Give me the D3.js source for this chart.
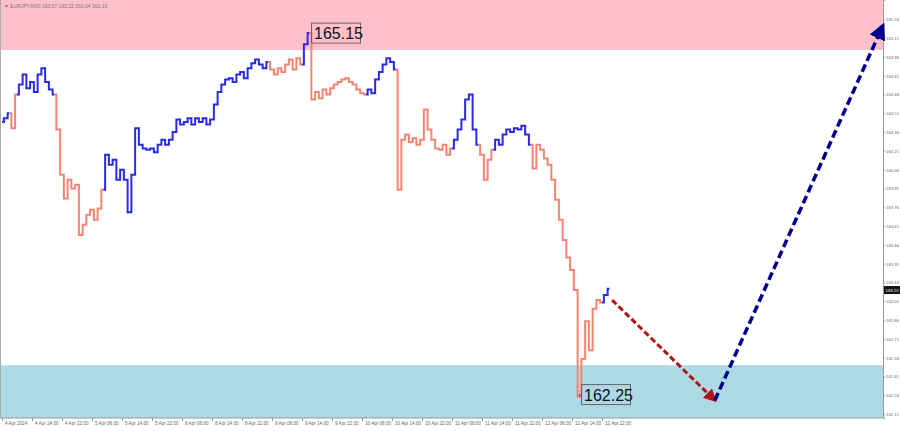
<!DOCTYPE html>
<html>
<head>
<meta charset="utf-8">
<script src="https://cdn.jsdelivr.net/npm/d3@7"></script>
<style>
html,body{margin:0;padding:0;background:#fff;}
svg{display:block;font-family:"Liberation Sans",Arial,sans-serif;}
</style>
</head>
<body>
<svg id="chart" width="900" height="431"></svg>
<script>
// ---- data (EURJPY, M30, hourly closes) ----
const closes = [
164.44,164.47,164.51,164.39,164.66,164.74,164.82,164.71,164.76,164.68,
164.82,164.87,164.76,164.70,164.66,164.38,164.02,163.83,163.98,163.91,
163.94,163.54,163.62,163.70,163.74,163.66,163.75,163.90,164.18,164.10,
164.14,163.98,164.06,163.98,163.72,164.02,164.39,164.26,164.23,164.22,
164.23,164.20,164.26,164.30,164.26,164.30,164.36,164.46,164.42,164.44,
164.47,164.42,164.47,164.44,164.47,164.42,164.46,164.58,164.68,164.74,
164.78,164.79,164.76,164.82,164.84,164.79,164.87,164.91,164.94,164.90,
164.87,164.92,164.86,164.82,164.87,164.84,164.90,164.94,164.86,164.95,
164.90,165.06,165.15,164.62,164.68,164.63,164.70,164.66,164.71,164.74,
164.76,164.78,164.79,164.76,164.74,164.70,164.67,164.66,164.70,164.67,
164.78,164.84,164.90,164.95,164.92,164.86,163.90,164.30,164.34,164.28,
164.31,164.26,164.30,164.54,164.38,164.30,164.23,164.22,164.26,164.18,
164.23,164.30,164.38,164.46,164.62,164.66,164.38,164.26,164.18,163.98,
164.14,164.22,164.30,164.26,164.34,164.38,164.36,164.39,164.38,164.41,
164.34,164.26,164.07,164.26,164.22,164.15,164.10,163.98,163.82,163.66,
163.50,163.36,163.26,163.10,162.25,162.55,162.85,162.62,162.95,163.02,
163.00,163.06,163.11
];
const waveStarts = [0,3,5,15,28,72,81,83,98,106,121,128,132,142,161];
const waveColors = ["blue","salmon","blue","salmon","blue","salmon","blue","salmon",
                    "blue","salmon","blue","salmon","blue","salmon","blue"];
const resistanceZone = [165.015, 165.414];
const supportZone = [162.079, 162.50];
const highLabel = {hour: 82, value: 165.15, text: "165.15"};
const lowLabel = {hour: 154, value: 162.25, text: "162.25"};
const forecastDown = [{hour: 162.7, value: 163.02}, {hour: 190.1, value: 162.22}];
const forecastUp = [{hour: 190.1, value: 162.22}, {hour: 234.9, value: 165.21}];
const yTickValues = d3.range(0, 22).map(k => +(162.11 + 0.15 * k).toFixed(2));
const xTickHours = d3.range(0, 21).map(k => k * 8);
const xTickLabels = ["4 Apr 2024","4 Apr 14:00","4 Apr 22:00","5 Apr 06:00","5 Apr 14:00",
  "5 Apr 22:00","8 Apr 06:00","8 Apr 14:00","8 Apr 22:00","9 Apr 06:00","9 Apr 14:00",
  "9 Apr 22:00","10 Apr 06:00","10 Apr 14:00","10 Apr 22:00","11 Apr 06:00","11 Apr 14:00",
  "11 Apr 22:00","12 Apr 06:00","12 Apr 14:00","12 Apr 22:00"];
const titleText = "\u25BC EURJPY,M30  163.07 163.12 163.04 163.10";
const lastPrice = 163.10;

// ---- drawing ----
const svg = d3.select("#chart");
const plotRight = 883, plotBottom = 418;
const x = d3.scaleLinear().domain([0, 235]).range([2, 883.25]);
const y = d3.scaleLinear().domain([162.079, 165.414]).range([plotBottom, 0]);
const colorMap = {blue: "#2a2ae6", salmon: "#f58472"};

// zones
svg.append("rect").attr("x", 0).attr("width", plotRight)
  .attr("y", y(resistanceZone[1])).attr("height", y(resistanceZone[0]) - y(resistanceZone[1]))
  .attr("fill", "#ffc0cb");
svg.append("rect").attr("x", 0).attr("width", plotRight)
  .attr("y", y(supportZone[1])).attr("height", y(supportZone[0]) - y(supportZone[1]))
  .attr("fill", "#add8e6");

// left border
svg.append("line").attr("x1", 0.5).attr("x2", 0.5).attr("y1", 0).attr("y2", plotBottom)
  .attr("stroke", "#aaa").attr("stroke-width", 1);

// title
svg.append("text").attr("x", 4).attr("y", 8).attr("font-size", 5).attr("fill", "#777").text(titleText);

// price waves
const line = d3.line().x(i => x(i)).y(i => y(closes[i])).curve(d3.curveStep);
waveStarts.forEach((s, w) => {
  const e = w + 1 < waveStarts.length ? waveStarts[w + 1] - 1 : closes.length - 1;
  const idx = d3.range(Math.max(s - 1, 0), e + 1);
  svg.append("path").datum(idx).attr("d", line)
    .attr("fill", "none").attr("stroke", colorMap[waveColors[w]])
    .attr("stroke-width", 2).attr("stroke-linejoin", "miter");
});

// axes
const yAxis = d3.axisRight(y).tickValues(yTickValues).tickSize(2).tickFormat(d3.format(".2f"));
const gy = svg.append("g").attr("transform", `translate(${plotRight},0)`).call(yAxis);
gy.select(".domain").attr("stroke", "#999");
gy.selectAll(".tick line").attr("stroke", "#999");
gy.selectAll(".tick text").attr("font-size", 4.3).attr("fill", "#666").attr("x", 3);

const xAxis = d3.axisBottom(x).tickValues(xTickHours).tickSize(3).tickFormat((d, i) => xTickLabels[i]);
const gx = svg.append("g").attr("transform", `translate(0,${plotBottom})`).call(xAxis);
gx.select(".domain").attr("stroke", "#999").attr("d", `M0,0H${plotRight}`);
gx.selectAll(".tick line").attr("stroke", "#999");
gx.selectAll(".tick text").attr("font-size", 4.6).attr("fill", "#666")
  .attr("text-anchor", "start").attr("x", 2.5).attr("y", 4);

// current price marker
svg.append("rect").attr("x", plotRight + 1).attr("y", y(lastPrice) - 4).attr("width", 16).attr("height", 8).attr("fill", "#111");
svg.append("text").attr("x", plotRight + 2.5).attr("y", y(lastPrice) + 1.8).attr("font-size", 4.3)
  .attr("fill", "#fff").text(lastPrice.toFixed(2));

// forecast arrows
const defs = svg.append("defs");
function marker(id, color, size) {
  defs.append("marker").attr("id", id).attr("viewBox", "0 0 10 10")
    .attr("refX", 8).attr("refY", 5).attr("markerUnits", "userSpaceOnUse")
    .attr("markerWidth", size).attr("markerHeight", size).attr("orient", "auto")
    .append("path").attr("d", "M0,0L10,5L0,10z").attr("fill", color);
}
marker("arrRed", "#b01515", 13);
marker("arrBlue", "#00008b", 17);
const aline = d3.line().x(d => x(d.hour)).y(d => y(d.value));
svg.append("path").datum(forecastDown).attr("d", aline).attr("fill", "none")
  .attr("stroke", "#b01515").attr("stroke-width", 3).attr("stroke-dasharray", "6,3")
  .attr("marker-end", "url(#arrRed)");
svg.append("path").datum(forecastUp).attr("d", aline).attr("fill", "none")
  .attr("stroke", "#00008b").attr("stroke-width", 3.5).attr("stroke-dasharray", "8,4")
  .attr("marker-end", "url(#arrBlue)");

// price labels
function priceLabel(p, dx, dy, leader) {
  const bx = x(p.hour) + dx, by = y(p.value) + dy;
  if (leader) {
    svg.append("path").attr("d", `M${x(p.hour)},${y(p.value)}V${by + 10}H${bx}`)
      .attr("fill", "none").attr("stroke", "#555").attr("stroke-width", 1);
  }
  svg.append("rect").attr("x", bx).attr("y", by).attr("width", 49).attr("height", 20)
    .attr("fill", "none").attr("stroke", "#666").attr("stroke-width", 1);
  svg.append("text").attr("x", bx + 2.5).attr("y", by + 16).attr("font-size", 16)
    .attr("fill", "#111").text(p.text);
}
priceLabel(highLabel, 2, -10, false);
priceLabel(lowLabel, 2, -12, true);
</script>
</body>
</html>
